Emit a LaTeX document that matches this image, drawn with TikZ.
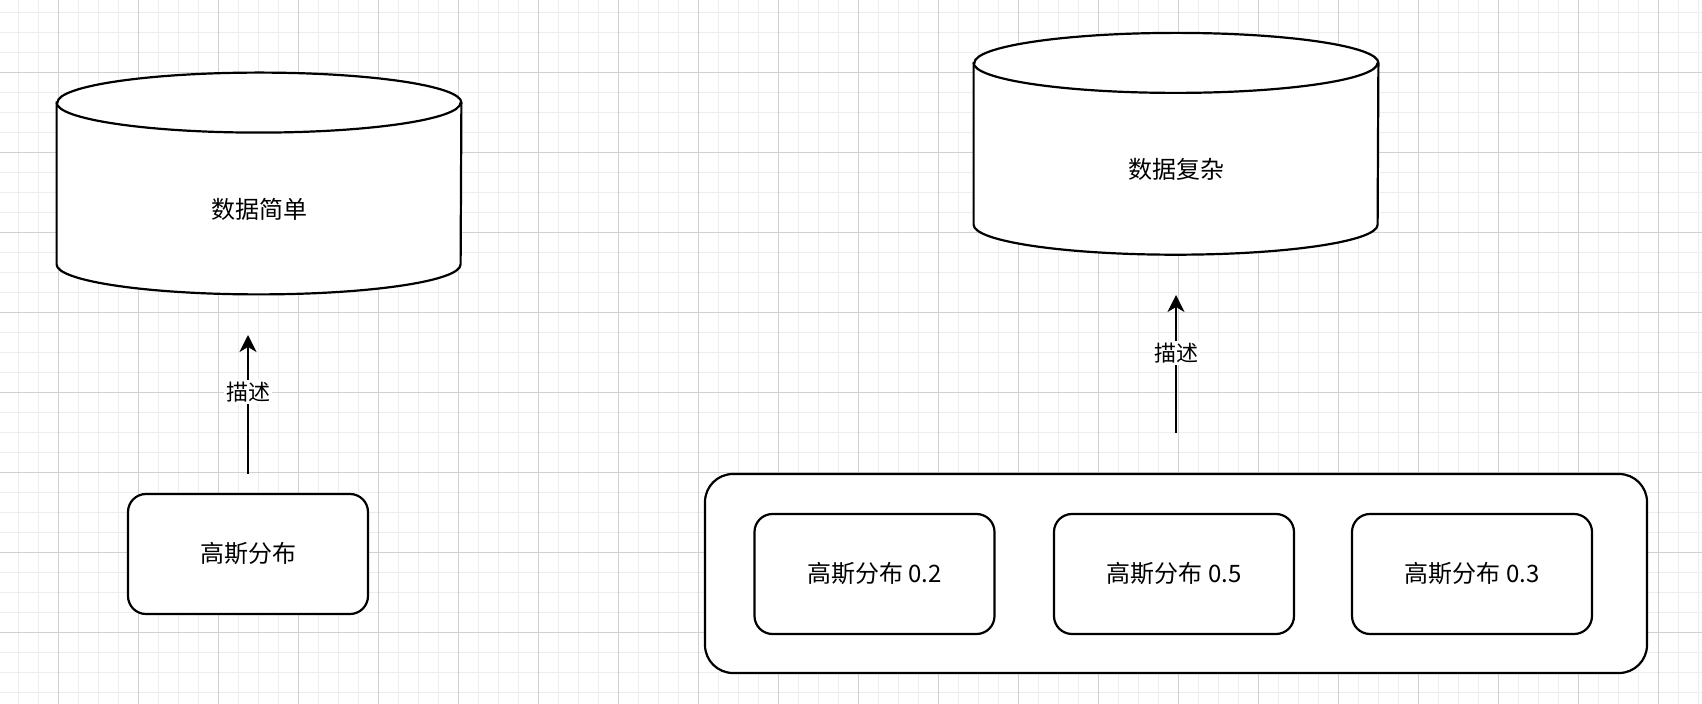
\documentclass[tikz,border=0pt]{standalone}
\usepackage{fontspec}
\setmainfont{Noto Sans CJK SC}
\usetikzlibrary{arrows.meta}
\tikzstyle{storebox} = [rectangle, minimum width=202pt, minimum height=110.5pt, inner sep=0pt]
\tikzstyle{storeline} = [draw, line width=1.1pt, fill=white]
\tikzstyle{storetext} = [font=\fontsize{12}{14}\selectfont]
\tikzstyle{gauss} = [rectangle, rounded corners=9pt, minimum width=120pt, minimum height=60pt, draw, line width=1.1pt, fill=white, font=\fontsize{12}{14}\selectfont]
\tikzstyle{mixture} = [rectangle, rounded corners=14pt, minimum width=471pt, minimum height=99.5pt, draw, line width=1.1pt, fill=white]
\tikzstyle{arrow} = [line width=1.1pt, -{Stealth[length=8.5pt, width=8.5pt, inset=2.5pt]}]
\tikzstyle{edgelabel} = [fill=white, inner sep=1pt, font=\fontsize{11}{13}\selectfont]
\tikzstyle{minorgrid} = [draw=black!7, line width=0.5pt]
\tikzstyle{majorgrid} = [draw=black!18, line width=0.5pt]

\begin{document}
\begin{tikzpicture}[x=0.5pt, y=-0.5pt]
    \fill[white] (0,0) rectangle (1702,704);
    \useasboundingbox (0,0) rectangle (1702,704);
    % grid
    \foreach \x in {18,38,...,1698} \draw[minorgrid] (\x,0) -- (\x,704);
    \foreach \y in {13,33,...,693} \draw[minorgrid] (0,\y) -- (1702,\y);
    \foreach \x in {58,138,...,1658} \draw[majorgrid] (\x,0) -- (\x,704);
    \foreach \y in {73,153,...,633} \draw[majorgrid] (0,\y) -- (1702,\y);

    % cylinders
    \foreach \name/\pos/\txt in {simple/{(259,183.5)}/数据简单, complex/{(1176,143.8)}/数据复杂} {
        \node [storebox] at \pos (\name) {};
        \path [storeline] ([yshift=-15pt]\name.north west) -- ([yshift=15pt]\name.south west)
            arc[start angle=180, end angle=360, x radius=101pt, y radius=15pt]
            -- ([yshift=-15pt]\name.north east)
            arc[start angle=0, end angle=180, x radius=101pt, y radius=15pt] -- cycle;
        \draw [line width=1.1pt] ([yshift=-15pt]\name.north west)
            arc[start angle=180, end angle=360, x radius=101pt, y radius=15pt];
        \node [storetext] at ([yshift=-13pt]\name.center) (\name text) {\txt};
    }

    \node [gauss] at (248,554) (single) {高斯分布};
    \node [mixture] at (1176,573.5) (mix) {};
    \node [gauss] at (874.5,574) (g1) {高斯分布 0.2};
    \node [gauss] at (1174,574) (g2) {高斯分布 0.5};
    \node [gauss] at (1472,574) (g3) {高斯分布 0.3};

    \coordinate (singletop) at (248,474);
    \coordinate (simplebelow) at (248,335);
    \coordinate (mixtop) at (1176,433);
    \coordinate (complexbelow) at (1176,295);
    \draw [arrow] (singletop) -- node[edgelabel, pos=0.59] {描述} (simplebelow);
    \draw [arrow] (mixtop) -- node[edgelabel, pos=0.58] {描述} (complexbelow);
\end{tikzpicture}
\end{document}
